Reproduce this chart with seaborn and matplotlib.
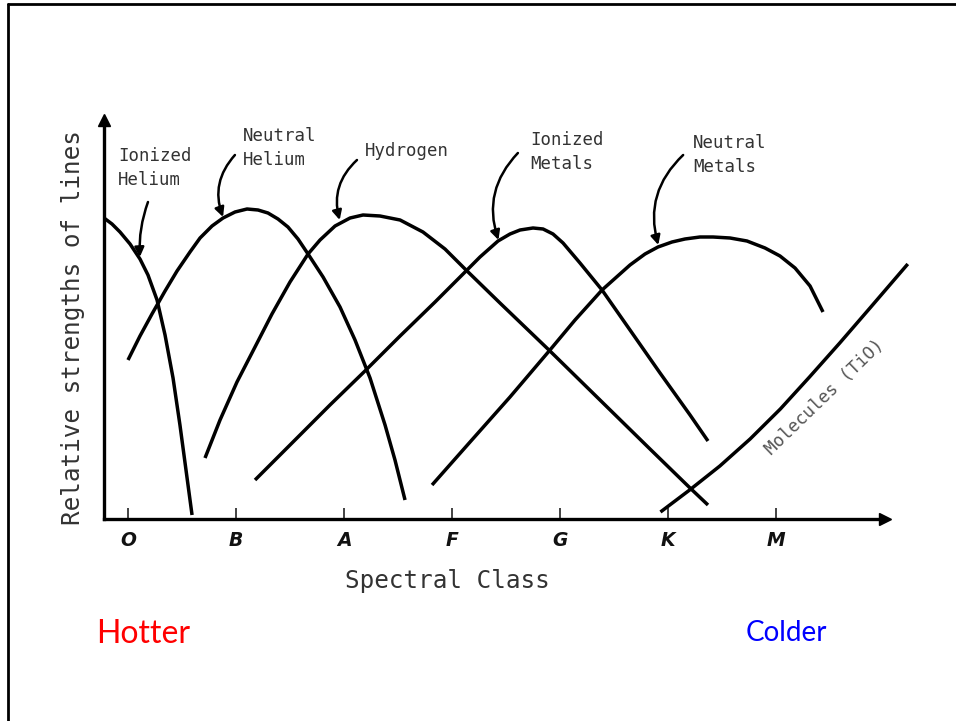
import numpy as np
import pandas as pd
import matplotlib
matplotlib.use("Agg")
import matplotlib.pyplot as plt
import seaborn as sns
from matplotlib.lines import Line2D

# ---------------- data (x: spectral class units O=0 ... M=6, y: relative strength) ----
classes = ["O", "B", "A", "F", "G", "K", "M"]
class_pos = [0, 1, 2, 3, 4, 5, 6]

ion_he_x = [-0.222, -0.148, -0.074, 0.019, 0.111, 0.185, 0.269, 0.343, 0.417, 0.481, 0.537, 0.593]
ion_he_y = [3.01, 2.95, 2.87, 2.75, 2.60, 2.44, 2.19, 1.84, 1.41, 0.94, 0.49, 0.04]

neu_he_x = [0.000, 0.111, 0.222, 0.343, 0.454, 0.574, 0.667, 0.778, 0.880, 0.991, 1.102, 1.204,
            1.296, 1.389, 1.481, 1.574, 1.667, 1.806, 1.963, 2.102, 2.241, 2.380, 2.472, 2.565]
neu_he_y = [1.59, 1.83, 2.05, 2.28, 2.48, 2.67, 2.81, 2.93, 3.01, 3.07, 3.10, 3.09,
            3.06, 3.00, 2.92, 2.80, 2.65, 2.42, 2.12, 1.79, 1.41, 0.94, 0.59, 0.19]

hyd_x = [0.713, 0.852, 1.009, 1.176, 1.333, 1.500, 1.667, 1.778, 1.917, 2.056, 2.176, 2.333,
         2.519, 2.731, 2.935, 3.130, 3.444, 3.907, 4.370, 4.833, 5.204, 5.370]
hyd_y = [0.61, 0.99, 1.37, 1.72, 2.05, 2.37, 2.65, 2.79, 2.93, 3.01, 3.04, 3.03,
         2.99, 2.87, 2.70, 2.49, 2.16, 1.68, 1.19, 0.70, 0.31, 0.14]

ion_met_x = [1.176, 1.500, 1.870, 2.194, 2.519, 2.843, 3.130, 3.259, 3.426, 3.537, 3.630,
             3.750, 3.843, 3.935, 4.028, 4.185, 4.389, 4.648, 4.926, 5.204, 5.370]
ion_met_y = [0.39, 0.74, 1.14, 1.48, 1.83, 2.17, 2.48, 2.62, 2.78, 2.85, 2.89,
             2.91, 2.90, 2.85, 2.76, 2.56, 2.29, 1.89, 1.46, 1.04, 0.78]

neu_met_x = [2.815, 3.167, 3.537, 3.907, 4.139, 4.389, 4.648, 4.787, 4.907, 5.037, 5.157,
             5.296, 5.417, 5.574, 5.731, 5.898, 6.037, 6.176, 6.315, 6.435]
neu_met_y = [0.34, 0.77, 1.22, 1.69, 1.99, 2.29, 2.54, 2.65, 2.72, 2.77, 2.80,
             2.82, 2.82, 2.81, 2.78, 2.71, 2.63, 2.51, 2.33, 2.07]

mol_x = [4.93, 5.20, 5.48, 5.76, 6.04, 6.31, 6.59, 6.87, 7.22]
mol_y = [0.07, 0.29, 0.53, 0.80, 1.10, 1.42, 1.76, 2.11, 2.55]

# label texts and annotation anchors
labels = ["Ionized\nHelium", "Neutral\nHelium", "Hydrogen", "Ionized\nMetals", "Neutral\nMetals"]
label_x = [-0.09, 1.06, 2.19, 3.72, 5.23]
label_y = [3.72, 3.92, 3.77, 3.88, 3.85]
arrow_from_x = [0.185, 0.99, 2.12, 3.61, 5.14]
arrow_from_y = [3.17, 3.64, 3.59, 3.66, 3.64]
arrow_to_x = [0.11, 0.88, 1.96, 3.43, 4.91]
arrow_to_y = [2.62, 3.02, 2.99, 2.79, 2.74]
arrow_rad = [0.1, 0.3, 0.3, 0.3, 0.3]

series = {
    "Ionized Helium": (ion_he_x, ion_he_y),
    "Neutral Helium": (neu_he_x, neu_he_y),
    "Hydrogen": (hyd_x, hyd_y),
    "Ionized Metals": (ion_met_x, ion_met_y),
    "Neutral Metals": (neu_met_x, neu_met_y),
    "Molecules (TiO)": (mol_x, mol_y),
}
df = pd.concat(
    [pd.DataFrame({"x": xs, "y": ys, "series": name}) for name, (xs, ys) in series.items()],
    ignore_index=True,
)

# ---------------- figure ----------------
sns.set_theme(style="white")
plt.rcParams["font.family"] = ["DejaVu Sans Mono", "DejaVu Sans"]

W, H = 956, 721
fig = plt.figure(figsize=(W / 100, H / 100), dpi=100)
ax = fig.add_axes([104 / W, (H - 519) / H, (885 - 104) / W, (519 - 120) / H])

sns.lineplot(data=df, x="x", y="y", units="series", estimator=None, sort=False,
             color="black", linewidth=2.5, legend=False, ax=ax)
for ln in ax.lines:
    ln.set_clip_on(False)
    ln.set_solid_capstyle("butt")
    ln.set_solid_joinstyle("round")

ax.set_xlim(-0.2222, 7.009)
ax.set_ylim(0, 3.99)

# axes with arrow heads
sns.despine(ax=ax)
for sp in ("left", "bottom"):
    ax.spines[sp].set_linewidth(2.4)
    ax.spines[sp].set_color("black")
ax.plot([1], [0], marker=">", color="black", ms=9, transform=ax.transAxes, clip_on=False)
ax.plot([0], [1], marker="^", color="black", ms=9, transform=ax.transAxes, clip_on=False)

ax.set_xticks(class_pos, classes)
ax.set_yticks([])
ax.tick_params(axis="x", direction="in", length=8, width=1.2, color="#222",
               bottom=True, pad=9, labelsize=13.5, labelcolor="#111")
for t in ax.get_xticklabels():
    t.set_fontfamily("DejaVu Sans")
    t.set_fontstyle("italic")
    t.set_fontweight("bold")

ax.set_xlabel("Spectral Class", fontsize=17.5, color="#333")
ax.xaxis.set_label_coords((447 - 104) / 781, -0.125)
ax.set_ylabel("Relative strengths of lines", fontsize=17.5, color="#333")
ax.yaxis.set_label_coords(-0.024, 0.48)

# curve labels with arrows
for txt, lx, ly, fx, fy, tx, ty, rad in zip(labels, label_x, label_y, arrow_from_x,
                                            arrow_from_y, arrow_to_x, arrow_to_y, arrow_rad):
    ax.text(lx, ly, txt, ha="left", va="top", fontsize=12.5, color="#333",
            linespacing=1.45)
    ax.annotate("", xy=(tx, ty), xytext=(fx, fy),
                arrowprops=dict(arrowstyle="-|>", connectionstyle=f"arc3,rad={rad}",
                                lw=1.8, color="black", mutation_scale=14,
                                shrinkA=0, shrinkB=0))

ax.text(6.454, 1.22, "Molecules (TiO)", rotation=44, rotation_mode="anchor",
        ha="center", va="center", fontsize=12.5, color="#555")

# Hotter / Colder
fig.text(96 / W, (H - 643) / H, "Hotter", color="red", fontsize=23,
         family="Lato", va="baseline", ha="left")
fig.text(746 / W, (H - 641) / H, "Colder", color="blue", fontsize=20,
         family="Lato", va="baseline", ha="left")

# frame lines
fig.add_artist(Line2D([8 / W, 1], [(H - 4) / H, (H - 4) / H], transform=fig.transFigure,
                      color="black", lw=2))
fig.add_artist(Line2D([8 / W, 8 / W], [0, (H - 4) / H], transform=fig.transFigure,
                      color="black", lw=2))

fig.savefig("out.png", dpi=100)
